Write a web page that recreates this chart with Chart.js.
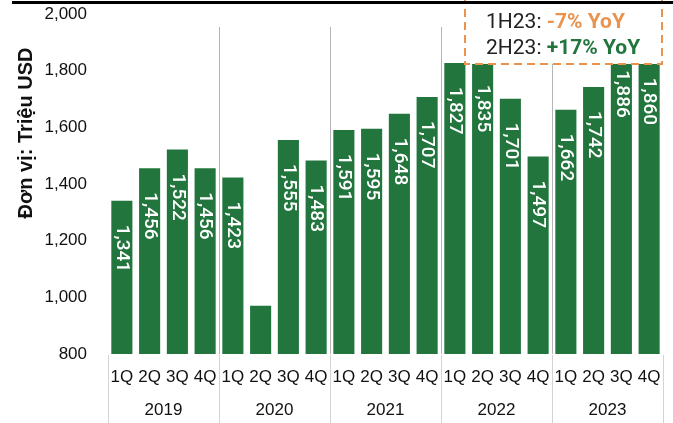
<!DOCTYPE html>
<html>
<head>
<meta charset="utf-8">
<script src="https://cdn.jsdelivr.net/npm/chart.js@4.4.1/dist/chart.umd.min.js"></script>
<style>
  html, body { margin: 0; padding: 0; background: #fff; }
</style>
</head>
<body>
<canvas id="revenueChart" width="673" height="423"></canvas>
<script>
// --- data ---
const years = ["2019", "2020", "2021", "2022", "2023"];
const quarters = ["1Q", "2Q", "3Q", "4Q"];
const revenue = [
  1341, 1456, 1522, 1456,
  1423, 970, 1555, 1483,
  1591, 1595, 1648, 1707,
  1827, 1835, 1701, 1497,
  1662, 1742, 1886, 1860,
];
const yTicks = [800, 1000, 1200, 1400, 1600, 1800, 2000];
const yTitle = "Đơn vị: Triệu USD";
const notePrefix = ["1H23: ", "2H23: "];
const noteValue = ["-7% YoY", "+17% YoY"];

const categories = years.flatMap((y) => quarters.map((q) => q + " " + y));

const GREEN = "#22753d";
const ORANGE = "#e9934e";
const tickFont = { family: "'Liberation Sans', Arial, sans-serif", size: 17 };

// ticks.padding also inflates the scale paddings; the layout is fixed here instead
function noScalePadding(s) {
  s.paddingTop = 0;
  s.paddingBottom = 0;
  s.paddingLeft = 0;
  s.paddingRight = 0;
}

// extra drawing: group separators, value labels, note box, axis title
const decorations = {
  id: "decorations",
  beforeDatasetsDraw(chart) {
    const { ctx, chartArea, scales } = chart;
    const x = scales.x;
    ctx.save();
    ctx.lineWidth = 1;
    for (let g = 0; g <= years.length; g++) {
      const px = Math.round(x.getPixelForValue(g * quarters.length - 0.5)) + 0.5;
      ctx.strokeStyle = "#d3d3d3";
      ctx.beginPath();
      ctx.moveTo(px, chartArea.bottom + 1);
      ctx.lineTo(px, chart.height);
      ctx.stroke();
      if (g > 0 && g < years.length) {
        ctx.strokeStyle = "#b5b5b5";
        ctx.beginPath();
        ctx.moveTo(px, chartArea.top + 13);
        ctx.lineTo(px, chartArea.bottom);
        ctx.stroke();
      }
    }
    ctx.restore();
  },
  afterDatasetsDraw(chart) {
    const { ctx, chartArea } = chart;
    const labelGap = 24;

    // rotated value labels inside the bars (skipped when they do not fit)
    ctx.save();
    ctx.font = "500 19px Roboto";
    ctx.fillStyle = "#ffffff";
    ctx.textAlign = "left";
    ctx.textBaseline = "middle";
    chart.getDatasetMeta(0).data.forEach((bar, i) => {
      const text = revenue[i].toLocaleString("en-US");
      const w = ctx.measureText(text).width;
      const bottom = Math.min(bar.base, chartArea.bottom);
      if (bottom - bar.y < w + labelGap + 4) return;
      ctx.save();
      ctx.translate(bar.x, bar.y + labelGap);
      ctx.rotate(Math.PI / 2);
      ctx.fillText(text, 0, 0);
      ctx.restore();
    });
    ctx.restore();

    // note box
    ctx.save();
    ctx.fillStyle = "#ffffff";
    ctx.fillRect(465, -2, 197, 66);
    ctx.setLineDash([8, 5]);
    ctx.lineWidth = 2;
    ctx.strokeStyle = ORANGE;
    ctx.strokeRect(465, -2, 197, 66);
    ctx.setLineDash([]);
    const baselines = [28, 54];
    const colors = [ORANGE, GREEN];
    ctx.textBaseline = "alphabetic";
    ctx.textAlign = "left";
    notePrefix.forEach((p, i) => {
      ctx.font = "21px Roboto";
      ctx.fillStyle = "#222";
      ctx.fillText(p, 486, baselines[i]);
      const w = ctx.measureText(p).width;
      ctx.font = "bold 21px Roboto";
      ctx.fillStyle = colors[i];
      ctx.fillText(noteValue[i], 486 + w, baselines[i]);
    });
    ctx.restore();

    // top rule (cut-off header)
    ctx.save();
    ctx.fillStyle = "#000";
    ctx.fillRect(12, 1, 661, 3);
    ctx.restore();

    // y axis title
    ctx.save();
    ctx.font = "bold 20px 'Liberation Sans', Arial, sans-serif";
    ctx.fillStyle = "#111";
    ctx.textAlign = "center";
    ctx.textBaseline = "middle";
    ctx.translate(26, 133);
    ctx.rotate(-Math.PI / 2);
    ctx.fillText(yTitle, 0, 0);
    ctx.restore();
  },
};

new Chart(document.getElementById("revenueChart"), {
  type: "bar",
  data: {
    labels: categories,
    datasets: [
      {
        label: "Revenue",
        data: revenue,
        backgroundColor: GREEN,
        borderWidth: 0,
        barPercentage: 0.76,
        categoryPercentage: 1,
      },
    ],
  },
  options: {
    responsive: false,
    animation: false,
    devicePixelRatio: 1,
    layout: { padding: { top: 14, right: 10, bottom: 0, left: 0 } },
    scales: {
      x: {
        type: "category",
        offset: true,
        weight: 0,
        grid: { display: false, drawTicks: false },
        border: { display: false },
        ticks: {
          font: tickFont,
          color: "#111",
          padding: 13,
          maxRotation: 0,
          autoSkip: false,
          callback: function (value, index) {
            return quarters[index % quarters.length];
          },
        },
        afterFit: (s) => { s.height = 34; noScalePadding(s); },
      },
      x2: {
        type: "category",
        labels: years,
        offset: true,
        position: "bottom",
        weight: 1,
        grid: { display: false, drawTicks: false },
        border: { display: false },
        ticks: { font: tickFont, color: "#111", padding: 12, maxRotation: 0 },
        afterFit: (s) => { s.height = 35; noScalePadding(s); },
      },
      y: {
        min: 800,
        max: 2000,
        grid: { display: false, drawTicks: false },
        border: { display: false },
        ticks: {
          font: tickFont,
          color: "#111",
          padding: 21,
          callback: function (value) {
            return value.toLocaleString("en-US");
          },
        },
        afterBuildTicks: (s) => { s.ticks = yTicks.map((v) => ({ value: v })); },
        afterFit: (s) => { s.width = 108; noScalePadding(s); },
      },
    },
    plugins: {
      legend: { display: false },
      tooltip: { enabled: false },
    },
  },
  plugins: [decorations],
});
</script>
</body>
</html>
